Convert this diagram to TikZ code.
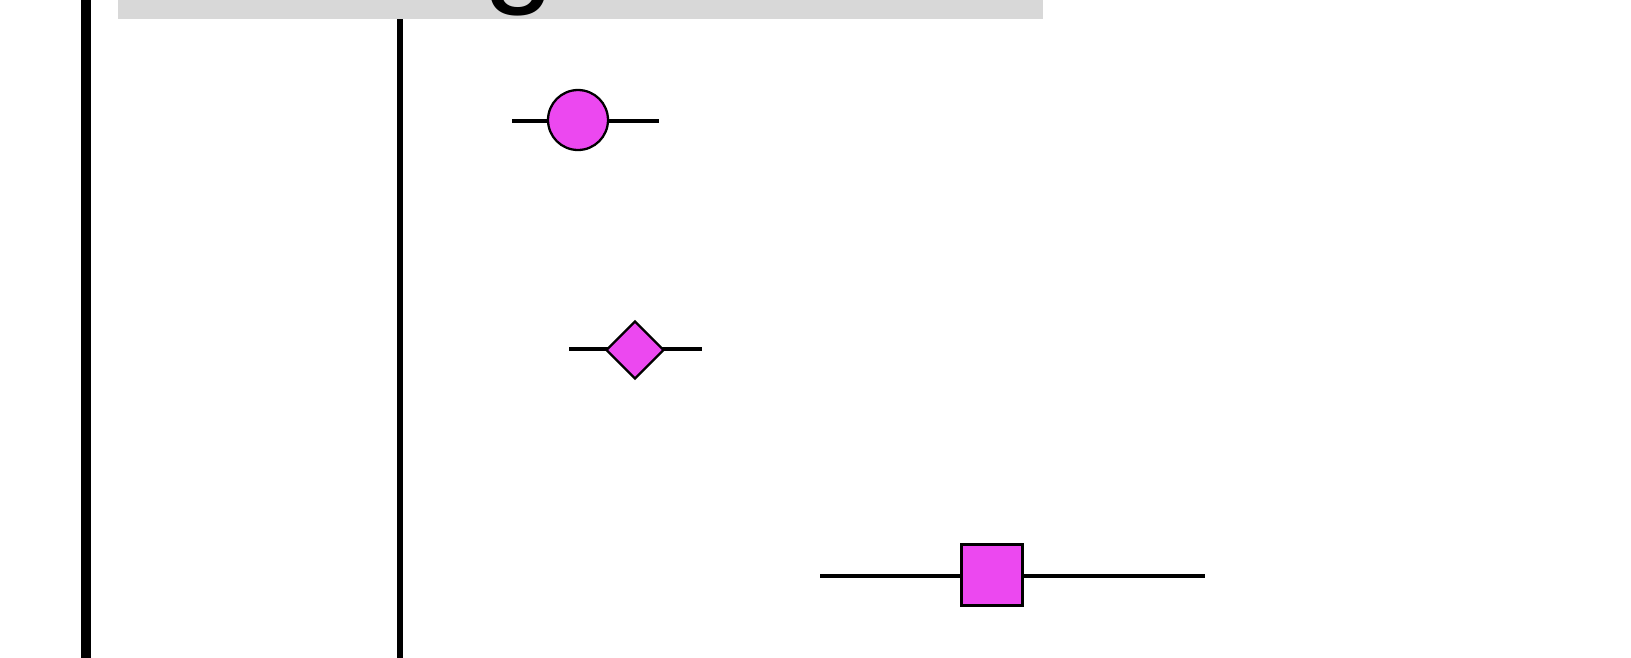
\documentclass[tikz,border=0pt]{standalone}
\usepackage{fontspec}
\setsansfont{Liberation Sans}
\usetikzlibrary{positioning,shapes.geometric}
\definecolor{markfill}{RGB}{236,72,240}
\definecolor{headgray}{RGB}{216,216,216}

\begin{document}
\begin{tikzpicture}[x=0.02cm, y=-0.02cm,
  whisker/.style={line width=2.5pt},
  marker/.style={draw, line width=1.3pt, fill=markfill, inner sep=0pt}]
\useasboundingbox (0,0) rectangle (1631,657);
% header band, cut off at the top
\fill[headgray] (118,-60) rectangle (1043,19);
\node[font=\sffamily\fontsize{73}{85}\selectfont, anchor=base, inner sep=0pt] (head) at (519,-11) {g};

% axes
\draw[line width=5.5pt] (86,-10) -- (86,670);
\draw[line width=3.4pt] (400,19) -- (400,670);

% estimates with intervals
\coordinate (lo1) at (512,121);
\coordinate (hi1) at (659,121);
\draw[whisker] (lo1) -- (hi1);
\node[marker, circle, minimum size=1.2cm] (est1) at (578,120) {};

\coordinate (lo2) at (569,349);
\coordinate (hi2) at (702,349);
\draw[whisker] (lo2) -- (hi2);
\node[marker, diamond, minimum size=1.16cm] (est2) at (635,350) {};

\coordinate (lo3) at (820,576);
\coordinate (hi3) at (1205,576);
\draw[whisker] (lo3) -- (hi3);
\node[marker, rectangle, minimum size=1.22cm] (est3) at (992,575) {};
\end{tikzpicture}
\end{document}
